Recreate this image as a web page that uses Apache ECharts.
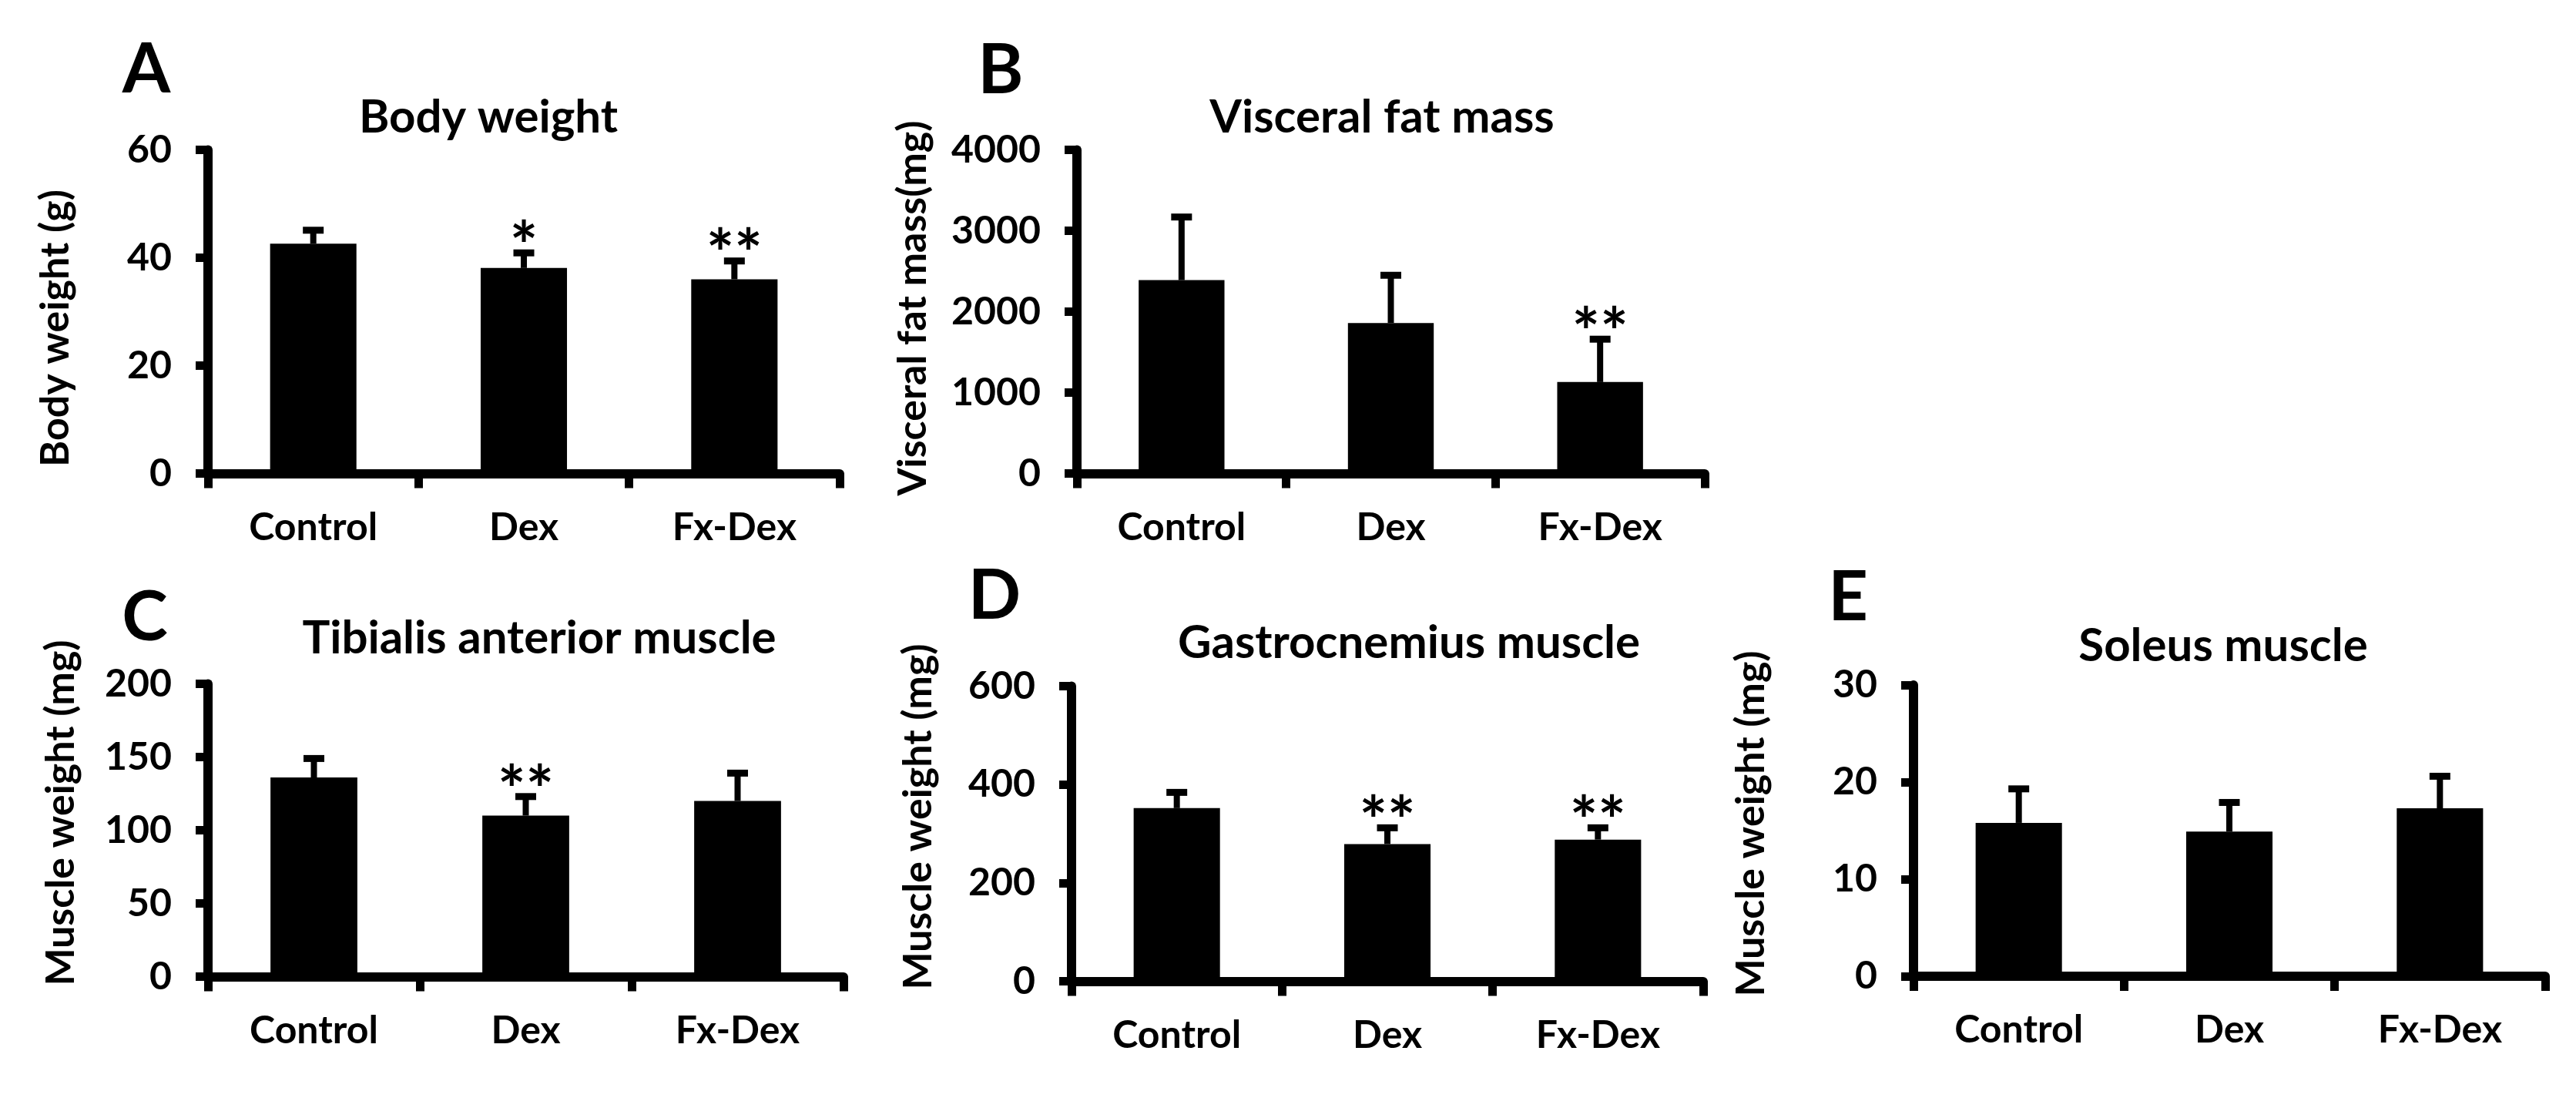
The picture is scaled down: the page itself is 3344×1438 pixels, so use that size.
<!DOCTYPE html>
<html><head><meta charset="utf-8">
<script src="https://cdn.jsdelivr.net/npm/echarts@6.0.0/dist/echarts.min.js"></script>
<style>html,body{margin:0;padding:0;background:#fff}#c{width:3344px;height:1438px}</style>
</head><body><div id="c"></div>
<script>
// ---- data ----
const categories = ['Control', 'Dex', 'Fx-Dex'];

const bodyWeight = [42.6, 38.1, 36.0];
const bodyWeightErr = [2.5, 2.8, 3.4];
const bodyWeightSig = ['', '*', '**'];

const visceralFat = [2390, 1860, 1130];
const visceralFatErr = [780, 590, 530];
const visceralFatSig = ['', '', '**'];

const tibialis = [136, 110, 120];
const tibialisErr = [13, 13, 19];
const tibialisSig = ['', '**', ''];

const gastrocnemius = [352, 279, 288];
const gastrocnemiusErr = [32, 33, 24];
const gastrocnemiusSig = ['', '**', '**'];

const soleus = [15.8, 14.9, 17.3];
const soleusErr = [3.5, 3.0, 3.3];
const soleusSig = ['', '', ''];

const yMax = [60, 4000, 200, 600, 30];
const yStep = [20, 1000, 50, 200, 10];

const letters = ['A', 'B', 'C', 'D', 'E'];
const titles = ['Body weight', 'Visceral fat mass', 'Tibialis anterior muscle', 'Gastrocnemius muscle', 'Soleus muscle'];
const yNames = ['Body weight (g)', 'Visceral fat mass(mg)', 'Muscle weight (mg)', 'Muscle weight (mg)', 'Muscle weight (mg)'];

// ---- layout (pixels) ----
const panels = [
  {means: bodyWeight, errs: bodyWeightErr, sigs: bodyWeightSig},
  {means: visceralFat, errs: visceralFatErr, sigs: visceralFatSig},
  {means: tibialis, errs: tibialisErr, sigs: tibialisSig},
  {means: gastrocnemius, errs: gastrocnemiusErr, sigs: gastrocnemiusSig},
  {means: soleus, errs: soleusErr, sigs: soleusSig}
];
const layout = [
  {left: 270, top: 194.5, width: 820, height: 420, letter: [190, 91], title: [634, 152.5], yname: [72.5, 426]},
  {left: 1398, top: 194.5, width: 815, height: 420, letter: [1299, 92], title: [1794, 152.5], yname: [1185, 400]},
  {left: 270, top: 887.5, width: 825, height: 380, letter: [188, 802], title: [700, 829], yname: [79.5, 1055]},
  {left: 1391, top: 890.5, width: 820, height: 383, letter: [1291, 774], title: [1829, 835], yname: [1192, 1060]},
  {left: 2484, top: 889, width: 820, height: 378, letter: [2399, 776], title: [2886, 839], yname: [2273, 1069]}
];

const FONT = 'Lato';
const grids = [], xAxes = [], yAxes = [], series = [], graphics = [];

layout.forEach((L, i) => {
  grids.push({left: L.left, top: L.top, width: L.width, height: L.height, containLabel: false});
  xAxes.push({
    type: 'category', gridIndex: i, data: categories, boundaryGap: true,
    axisLine: {show: true, lineStyle: {color: '#000', width: 12}},
    axisTick: {show: true, inside: false, length: 19, lineStyle: {color: '#000', width: 11}},
    axisLabel: {color: '#000', fontFamily: FONT, fontWeight: 'bold', fontSize: 50, margin: 45},
    splitLine: {show: false}
  });
  yAxes.push({
    type: 'value', gridIndex: i, min: 0, max: yMax[i], interval: yStep[i],
    axisLine: {show: true, lineStyle: {color: '#000', width: 12}},
    axisTick: {show: true, inside: false, length: 16, lineStyle: {color: '#000', width: 11}},
    axisLabel: {color: '#000', fontFamily: FONT, fontWeight: 'bold', fontSize: 50, margin: 47, formatter: v => String(v)},
    splitLine: {show: false}
  });
  const P = panels[i];
  series.push({
    type: 'bar', xAxisIndex: i, yAxisIndex: i, data: P.means, barWidth: '41%',
    itemStyle: {color: '#000'}, silent: true, animation: false
  });
  series.push({
    type: 'custom', xAxisIndex: i, yAxisIndex: i, z: 3, animation: false, silent: true,
    data: P.means.map((m, j) => [j, m, m + P.errs[j]]),
    renderItem: (params, api) => {
      const base = api.coord([api.value(0), api.value(1)]);
      const top = api.coord([api.value(0), api.value(2)]);
      const children = [
        {type: 'rect', shape: {x: top[0] - 4, y: top[1], width: 8, height: base[1] - top[1]}, style: {fill: '#000'}},
        {type: 'rect', shape: {x: top[0] - 13.5, y: top[1] - 4.5, width: 27, height: 9}, style: {fill: '#000'}}
      ];
      const sig = P.sigs[params.dataIndex];
      if (sig) {
        children.push({type: 'text', x: top[0], y: top[1] - 6,
          style: {text: sig, font: 'bold 86px ' + FONT, fill: '#000', align: 'center', verticalAlign: 'middle', textAlign: 'center', textVerticalAlign: 'middle'}});
      }
      return {type: 'group', children};
    }
  });
  const ts = (text, size) => ({text, font: 'bold ' + size + 'px ' + FONT, fill: '#000', align: 'center', verticalAlign: 'middle', textAlign: 'center', textVerticalAlign: 'middle'});
  graphics.push({type: 'text', x: L.letter[0], y: L.letter[1], style: ts(letters[i], 90)});
  graphics.push({type: 'text', x: L.title[0], y: L.title[1], style: ts(titles[i], 60)});
  graphics.push({type: 'text', x: L.yname[0], y: L.yname[1], rotation: Math.PI / 2, style: ts(yNames[i], 52)});
});

const chart = echarts.init(document.getElementById('c'), null, {renderer: 'canvas'});
chart.setOption({
  backgroundColor: '#fff',
  animation: false,
  grid: grids, xAxis: xAxes, yAxis: yAxes, series: series,
  graphic: {elements: graphics}
});
</script></body></html>
